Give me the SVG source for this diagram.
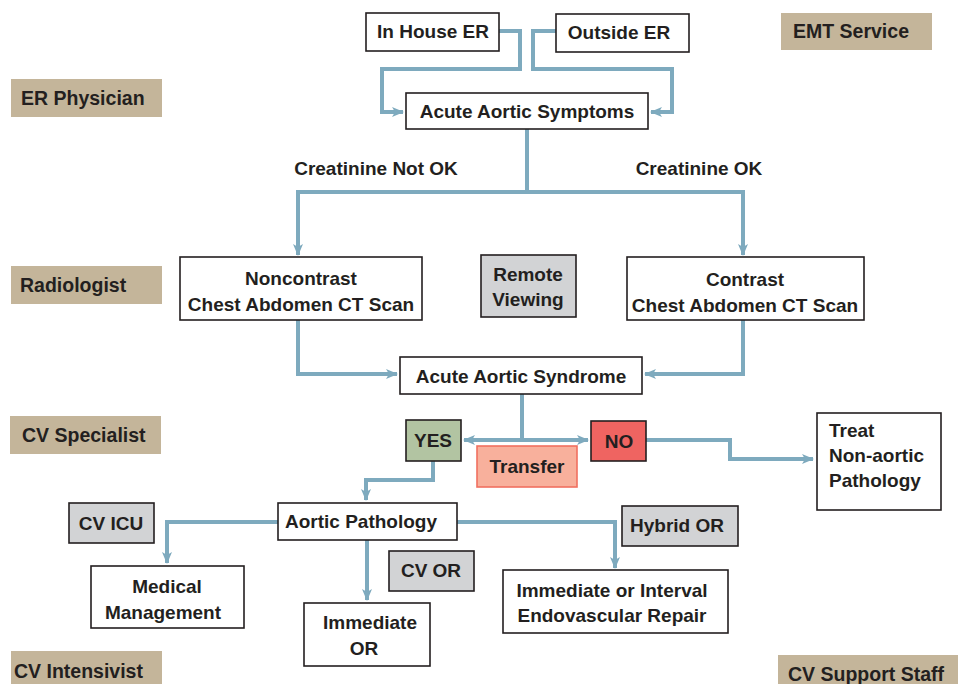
<svg xmlns="http://www.w3.org/2000/svg" width="963" height="684" viewBox="0 0 963 684">
<style>
text{font-family:"Liberation Sans",Arial,sans-serif;font-weight:bold;fill:#231f20;font-size:19px}
.c{text-anchor:middle}
.box{fill:#fff;stroke:#231f20;stroke-width:1.6}
.gray{fill:#d2d3d5;stroke:#231f20;stroke-width:1.6}
.tan{fill:#c4b59a}
.lbl{font-size:19.5px}
.conn{fill:none;stroke:#7eaabe;stroke-width:4;stroke-linejoin:miter}
</style>
<defs>
<marker id="ah" markerUnits="userSpaceOnUse" markerWidth="12" markerHeight="12" viewBox="0 0 12 12" refX="11" refY="6" orient="auto">
<path d="M0,1 L12,6 L0,11 L3,6 Z" fill="#7eaabe"/>
</marker>
</defs>
<rect width="963" height="684" fill="#fff"/>

<g id="roles">
<g id="emt"><rect class="tan" x="781" y="13" width="151" height="37"/><text class="lbl" x="793" y="38">EMT Service</text></g>
<g id="erphys"><rect class="tan" x="11" y="79" width="151" height="38"/><text class="lbl" x="21" y="105">ER Physician</text></g>
<g id="radiologist"><rect class="tan" x="11" y="266" width="151" height="38"/><text class="lbl" x="20" y="292">Radiologist</text></g>
<g id="cvspec"><rect class="tan" x="10" y="416" width="151" height="38"/><text class="lbl" x="22" y="442">CV Specialist</text></g>
<g id="cvint"><rect class="tan" x="11" y="651" width="151" height="33"/><text class="lbl" x="14" y="678">CV Intensivist</text></g>
<g id="cvsupport"><rect class="tan" x="778" y="655" width="180" height="29"/><text class="lbl" x="788" y="681">CV Support Staff</text></g>
</g>

<g id="connectors">
<path class="conn" d="M499,31 H520 V69 H382 V112 H403" marker-end="url(#ah)"/>
<path class="conn" d="M556,31 H533 V69 H672 V112 H651" marker-end="url(#ah)"/>
<path class="conn" d="M527,129 V192 H298 V255" marker-end="url(#ah)"/>
<path class="conn" d="M527,192 H743 V255" marker-end="url(#ah)"/>
<path class="conn" d="M298,320 V374 H397" marker-end="url(#ah)"/>
<path class="conn" d="M743,320 V374 H645" marker-end="url(#ah)"/>
<path class="conn" d="M522,394 V440 H588" marker-end="url(#ah)"/>
<path class="conn" d="M522,440 H464" marker-end="url(#ah)"/>
<path class="conn" d="M646,440 H730 V459 H813" marker-end="url(#ah)"/>
<path class="conn" d="M433,461 V480 H366 V500" marker-end="url(#ah)"/>
<path class="conn" d="M278,522 H167 V563" marker-end="url(#ah)"/>
<path class="conn" d="M367,540 V600" marker-end="url(#ah)"/>
<path class="conn" d="M457,522 H615 V568" marker-end="url(#ah)"/>
</g>

<g id="inhouse"><rect class="box" x="366" y="13" width="133" height="38"/><text class="c" x="433" y="38">In House ER</text></g>
<g id="outside"><rect class="box" x="556" y="14" width="133" height="38"/><text class="c" x="619" y="39">Outside ER</text></g>
<g id="symptoms"><rect class="box" x="406" y="93" width="242" height="36"/><text class="c" x="527" y="118">Acute Aortic Symptoms</text></g>
<g id="notok"><text class="c" x="376" y="175">Creatinine Not OK</text></g>
<g id="ok"><text class="c" x="699" y="175">Creatinine OK</text></g>
<g id="noncontrast"><rect class="box" x="180" y="257" width="242" height="63"/><text class="c" x="301" y="285">Noncontrast</text><text class="c" x="301" y="311">Chest Abdomen CT Scan</text></g>
<g id="remote"><rect class="gray" x="481" y="255" width="95" height="62"/><text class="c" x="528" y="281">Remote</text><text class="c" x="528" y="306">Viewing</text></g>
<g id="contrast"><rect class="box" x="627" y="257" width="237" height="63"/><text class="c" x="745" y="286">Contrast</text><text class="c" x="745" y="312">Chest Abdomen CT Scan</text></g>
<g id="syndrome"><rect class="box" x="400" y="357" width="242" height="37"/><text class="c" x="521" y="383">Acute Aortic Syndrome</text></g>
<g id="yes"><rect x="406" y="420" width="55" height="41" fill="#b2c4a2" stroke="#231f20" stroke-width="1.6"/><text class="c" x="433" y="447">YES</text></g>
<g id="no"><rect x="591" y="421" width="55" height="40" fill="#ef6461" stroke="#231f20" stroke-width="1.6"/><text class="c" x="619" y="448">NO</text></g>
<g id="transfer"><rect x="477" y="446" width="100" height="41" fill="#f8b09c" stroke="#f07060" stroke-width="1.6"/><text class="c" x="527" y="473">Transfer</text></g>
<g id="treat"><rect class="box" x="817" y="413" width="124" height="97"/><text x="829" y="437">Treat</text><text x="829" y="462">Non-aortic</text><text x="829" y="487">Pathology</text></g>
<g id="pathology"><rect class="box" x="278" y="503" width="179" height="37"/><text class="c" x="361" y="528">Aortic Pathology</text></g>
<g id="cvicu"><rect class="gray" x="69" y="503" width="85" height="40"/><text class="c" x="111" y="530">CV ICU</text></g>
<g id="medical"><rect class="box" x="91" y="566" width="153" height="62"/><text class="c" x="167" y="593">Medical</text><text class="c" x="163" y="619">Management</text></g>
<g id="cvor"><rect class="gray" x="389" y="551" width="85" height="40"/><text class="c" x="431" y="577">CV OR</text></g>
<g id="immediate"><rect class="box" x="304" y="603" width="126" height="63"/><text class="c" x="370" y="629">Immediate</text><text class="c" x="364" y="655">OR</text></g>
<g id="hybrid"><rect class="gray" x="622" y="506" width="116" height="40"/><text class="c" x="677" y="532">Hybrid OR</text></g>
<g id="endo"><rect class="box" x="503" y="570" width="225" height="63"/><text class="c" x="612" y="597">Immediate or Interval</text><text class="c" x="612" y="622">Endovascular Repair</text></g>
</svg>
